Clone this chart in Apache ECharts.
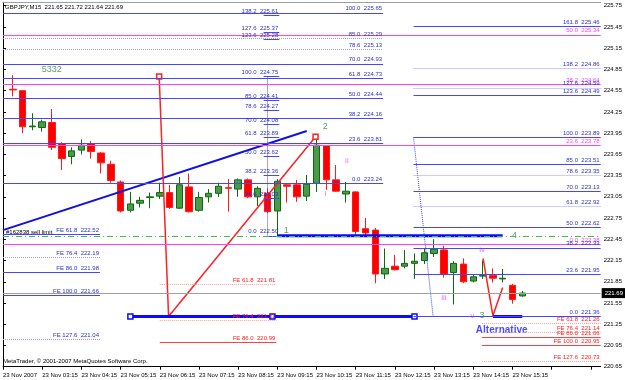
<!DOCTYPE html>
<html>
<head>
<meta charset="utf-8">
<script src="https://cdn.jsdelivr.net/npm/echarts@6/dist/echarts.min.js"></script>
</head>
<body style="margin:0">
<div id="main" style="width:625px;height:380px;"></div>
<script type="text/javascript">
// bar numbers count 15-minute bars from 23 Nov 02:15
var firstBar = 1;
var opens  = [224.57,224.55,224.04,224.03,224.10,223.80,223.62,223.71,223.80,223.67,223.51,223.26,222.86,222.96,223.04,223.06,223.11,222.89,223.19,222.86,223.05,223.10,223.18,223.16,223.29,223.05,223.10,222.85,223.22,223.22,223.06,223.24,223.77,223.29,223.09,223.12,222.60,222.58,221.96,222.07,222.07,222.11,222.15,222.25,222.30,221.98,222.10,221.86,221.93,221.94,221.89,221.80,221.65];
var closes = [224.56,224.04,224.05,224.11,223.75,223.59,223.70,223.78,223.69,223.53,223.28,222.85,222.95,223.00,223.05,223.11,222.90,223.22,222.84,223.04,223.10,223.20,223.17,223.29,223.05,223.17,222.84,223.27,223.20,223.05,223.23,223.78,223.29,223.13,223.13,222.56,222.54,221.96,222.04,222.02,222.11,222.14,222.26,222.31,221.96,222.11,221.85,221.92,221.94,221.90,221.90,221.60,221.69];
var lows   = [224.47,223.95,223.99,223.97,223.71,223.43,223.51,223.65,223.59,223.38,223.25,222.83,222.83,222.90,222.89,223.02,222.88,222.88,222.83,222.84,222.97,223.05,222.84,223.05,223.03,222.92,222.82,222.50,222.97,222.98,222.99,223.12,223.15,223.12,222.97,222.50,222.51,221.83,221.89,222.01,222.04,221.89,222.10,222.20,221.91,221.53,221.83,221.84,221.89,221.84,221.84,221.54,221.64];
var highs  = [224.77,224.56,224.23,224.14,224.29,223.82,223.75,223.86,223.84,223.68,223.56,223.28,223.12,223.05,223.11,223.25,223.22,223.33,223.38,223.12,223.16,223.25,223.30,223.31,223.31,223.20,223.17,223.30,223.23,223.29,223.36,223.90,223.78,223.50,223.26,223.13,222.75,222.61,222.32,222.23,222.30,222.25,222.32,222.45,222.36,222.14,222.18,221.95,222.15,222.04,222.03,221.82,221.72];
var timeLabels = ['23 Nov 2007','23 Nov 03:15','23 Nov 04:15','23 Nov 05:15','23 Nov 06:15','23 Nov 07:15','23 Nov 08:15','23 Nov 09:15','23 Nov 10:15','23 Nov 11:15','23 Nov 12:15','23 Nov 13:15','23 Nov 14:15','23 Nov 15:15'];
var lastPrice = 221.69;

// fibo objects: level names, prices, bar span
var fibALevels = ['0.0','23.6','38.2','50.0','61.8','70.0','78.6','85.0','100.0','123.6','127.6','138.2'];
var fibAPrices = [222.50,223.03,223.36,223.62,223.89,224.08,224.27,224.41,224.75,225.28,225.37,225.61];
var fibASpan = [26.6, 28.2];
var fibBLevels = ['0.0','23.6','38.2','50.0','61.8','70.0','78.6','85.0','100.0'];
var fibBPrices = [223.24,223.81,224.16,224.44,224.73,224.93,225.13,225.29,225.65];
var fibBSpan = [0, 38.8];
var fibCLevels = ['0.0','23.6','38.2','50.0','61.8','70.0','78.6','85.0','100.0','123.6','127.6','138.2','161.8'];
var fibCPrices = [221.36,221.95,222.33,222.62,222.92,223.13,223.35,223.51,223.89,224.49,224.59,224.86,225.46];
var fibCSpan = [41.9, 61];
var fibMLevels = ['0.0','23.6','38.2','50.0'];
var fibMPrices = [222.38,223.78,224.64,225.34];
var fibMSpan = [0, 61];
var feLeftLevels = ['FE 61.8','FE 76.4','FE 86.0','FE 100.0','FE 127.6'];
var feLeftPrices = [222.52,222.19,221.98,221.66,221.04];
var feLeftSpan = [0, 9.9];
var feMidLevels = ['FE 61.8','FE 76.4','FE 86.0'];
var feMidPrices = [221.81,221.31,220.99];
var feMidSpan = [16, 27.9];
var feRightLevels = ['FE 61.8','FE 76.4','FE 86.0','FE 100.0','FE 127.6'];
var feRightPrices = [221.26,221.14,221.06,220.95,220.73];
var feRightSpan = [48.9, 61];
var sellLimit = 222.49;

// drawn lines: [bar, price]
var trendLine = [[0, 222.58], [31, 223.98]];
var zigzagA = [[15.94, 224.75], [16.9, 221.36], [31.9, 223.90]];
var zigzagB = [[49.0, 222.18], [50.0, 221.37], [51.0, 221.77]];
var thickA = [[13, 221.36], [27.5, 221.36], [42, 221.36]];
var thickB = [[28, 222.50], [51, 222.50]];
var thickC = [[50, 221.36], [53, 221.36]];
var fibAxisA = [[27, 224.75], [27, 222.50]];
var fibAxisC = [[41.9, 223.89], [43.9, 221.36]];

// wave labels
var waveText = ['5332','1','2','3','4'];
var waveBars = [4.97, 28.9, 32.9, 48.9, 52.2];
var wavePrices = [224.85, 222.58, 224.05, 221.37, 222.51];
var subText = ['i','ii','iii','iv','v'];
var subBars = [32.9, 35.1, 45.0, 48.9, 47.9];
var subPrices = [223.09, 223.56, 221.62, 222.30, 221.37];

var font = "'Liberation Sans', Arial, sans-serif";

var candles = [];
for (var k = 0; k < opens.length; k++) {
    candles.push([firstBar + k, opens[k], closes[k], lows[k], highs[k]]);
}

function levelMarks(names, prices, span, color, dotted, dotColor, labelColor) {
    return names.map(function (n, k) {
        var dot = dotted.indexOf(n) >= 0;
        return [
            {coord: [span[0], prices[k]], name: n + '  ' + prices[k].toFixed(2),
             lineStyle: {color: dot ? dotColor : color, type: dot ? 'dotted' : 'solid', width: 1},
             label: {color: labelColor}},
            {coord: [span[1], prices[k]]}
        ];
    });
}

function levelSeries(marks) {
    return {
        type: 'line', data: [], silent: true,
        markLine: {
            symbol: ['none', 'none'], silent: true, animation: false,
            label: {show: true, position: 'insideEndTop', formatter: '{b}', fontSize: 6,
                    fontFamily: font, distance: [1, 1]},
            data: marks
        }
    };
}

function drawnLine(points, color, width, type, squares) {
    return {
        type: 'line', silent: true, symbol: 'rect', symbolSize: 5,
        lineStyle: {color: color, width: width, type: type},
        itemStyle: {color: '#ffffff', borderColor: color, borderWidth: 1.5},
        data: points.map(function (p, k) {
            return {value: p, symbol: (squares && squares[k]) ? 'rect' : 'none'};
        })
    };
}

function textSeries(texts, bars, prices, labelStyle) {
    return {
        type: 'scatter', silent: true, symbolSize: 1,
        itemStyle: {color: 'rgba(0,0,0,0)'},
        label: Object.assign({show: true, position: 'inside', formatter: '{b}', fontFamily: font}, labelStyle),
        data: texts.map(function (t, k) { return {name: t, value: [bars[k], prices[k]]}; })
    };
}

var myChart = echarts.init(document.getElementById('main'));

var option = {
    animation: false,
    backgroundColor: '#ffffff',
    title: {
        text: 'GBPJPY,M15  221.65 221.72 221.64 221.69',
        left: 5, top: 4, padding: 0,
        textStyle: {fontSize: 6, fontWeight: 'normal', color: '#000', fontFamily: font}
    },
    graphic: [{
        type: 'text', left: 3, top: 358,
        style: {text: 'MetaTrader, \u00a9 2001-2007 MetaQuotes Software Corp.', fontSize: 6, fontFamily: font, fill: '#000'}
    }],
    grid: {left: 2, right: 23, top: 2.2, bottom: 13.3},
    xAxis: [{
        type: 'value', min: 0, max: 61, interval: 4,
        splitLine: {show: false},
        axisLine: {lineStyle: {color: '#000'}},
        axisTick: {length: 3, lineStyle: {color: '#000'}},
        axisLabel: {
            align: 'left', margin: 6, fontSize: 6, color: '#000', fontFamily: font,
            showMinLabel: true, showMaxLabel: false, hideOverlap: false,
            formatter: function (v) {
                var n = Math.round(v);
                return (n % 4 === 0 && timeLabels[n / 4]) ? timeLabels[n / 4] : '';
            }
        }
    }, {
        type: 'value', position: 'top', min: 0, max: 61,
        axisLine: {show: true, lineStyle: {color: '#a0a0a0'}},
        axisTick: {show: false}, axisLabel: {show: false}, splitLine: {show: false}
    }],
    yAxis: {
        type: 'value', position: 'right', min: 220.65, max: 225.8, interval: 0.3, scale: true,
        splitLine: {show: false},
        axisLine: {show: true, lineStyle: {color: '#000'}},
        axisTick: {show: true, length: 3, lineStyle: {color: '#000'}},
        axisLabel: {
            fontSize: 6, color: '#000', fontFamily: font, margin: 3, showMaxLabel: false,
            formatter: function (v) { return v > 225.76 ? '' : v.toFixed(2); }
        }
    },
    series: [
        {
            type: 'candlestick', data: candles, silent: true,
            encode: {x: 0, y: [1, 2, 3, 4]},
            barWidth: 7,
            itemStyle: {color: '#4a9a4a', color0: '#ff0000', borderColor: '#0b6b0b', borderColor0: '#ff1a1a', borderWidth: 1},
            markLine: {
                symbol: ['none', 'none'], silent: true, animation: false,
                lineStyle: {color: '#a0a0a0', type: 'solid', width: 1},
                label: {show: true, position: 'end', distance: 1, formatter: lastPrice.toFixed(2), fontSize: 6,
                        fontFamily: font, color: '#fff', backgroundColor: '#000', padding: [2, 3]},
                data: [{yAxis: lastPrice}]
            }
        },
        levelSeries(levelMarks(fibMLevels, fibMPrices, fibMSpan, '#ff40ff', [], '#ff40ff', '#ff40ff')),
        levelSeries(levelMarks(fibBLevels, fibBPrices, fibBSpan, '#4646ff', ['78.6', '85.0'], '#9a9aff', '#3030c8')),
        levelSeries(levelMarks(fibALevels, fibAPrices, fibASpan, '#4646ff', [], '#9a9aff', '#3030c8')),
        levelSeries(levelMarks(fibCLevels, fibCPrices, fibCSpan, '#4646ff', ['61.8', '78.6', '127.6', '138.2'], '#9a9aff', '#3030c8')),
        levelSeries(levelMarks(feLeftLevels, feLeftPrices, feLeftSpan, '#4646ff', ['FE 76.4', 'FE 127.6'], '#9a9aff', '#3030c8')),
        levelSeries(levelMarks(feMidLevels, feMidPrices, feMidSpan, '#ff4040', ['FE 61.8', 'FE 76.4'], '#ff9a9a', '#ff2020')),
        levelSeries(levelMarks(feRightLevels, feRightPrices, feRightSpan, '#ff4040', ['FE 61.8', 'FE 76.4', 'FE 127.6'], '#ff9a9a', '#ff2020')),
        {
            type: 'line', data: [], silent: true,
            markLine: {
                symbol: ['none', 'none'], silent: true, animation: false,
                lineStyle: {color: '#40c040', type: [6, 3, 1, 3], width: 1},
                label: {show: true, position: 'insideStartTop', formatter: '#162838 sell limit', fontSize: 6,
                        fontFamily: font, color: '#000', distance: [3, 1]},
                data: [[{coord: [0, sellLimit]}, {coord: [61, sellLimit]}]]
            }
        },
        drawnLine(fibAxisA, '#4040ff', 1, 'dotted'),
        drawnLine(fibAxisC, '#4040ff', 1, 'dotted'),
        drawnLine(trendLine, '#1010e0', 2, 'solid'),
        drawnLine(zigzagA, '#ff2020', 1.5, 'solid', [true, false, true]),
        drawnLine(zigzagB, '#ff2020', 1.5, 'solid'),
        drawnLine(thickA, '#0a0aff', 3, 'solid', [true, true, true]),
        drawnLine(thickB, '#0a0aff', 3, 'solid'),
        drawnLine(thickC, '#0a0aff', 3, 'solid'),
        textSeries(waveText, waveBars, wavePrices, {color: '#3a8a3a', fontSize: 9}),
        textSeries(subText, subBars, subPrices, {color: '#ff40ff', fontSize: 8}),
        textSeries(['Alternative'], [50.9], [221.17], {color: '#1a1aff', fontSize: 10, fontWeight: 'bold'})
    ]
};

myChart.setOption(option);
</script>
</body>
</html>
